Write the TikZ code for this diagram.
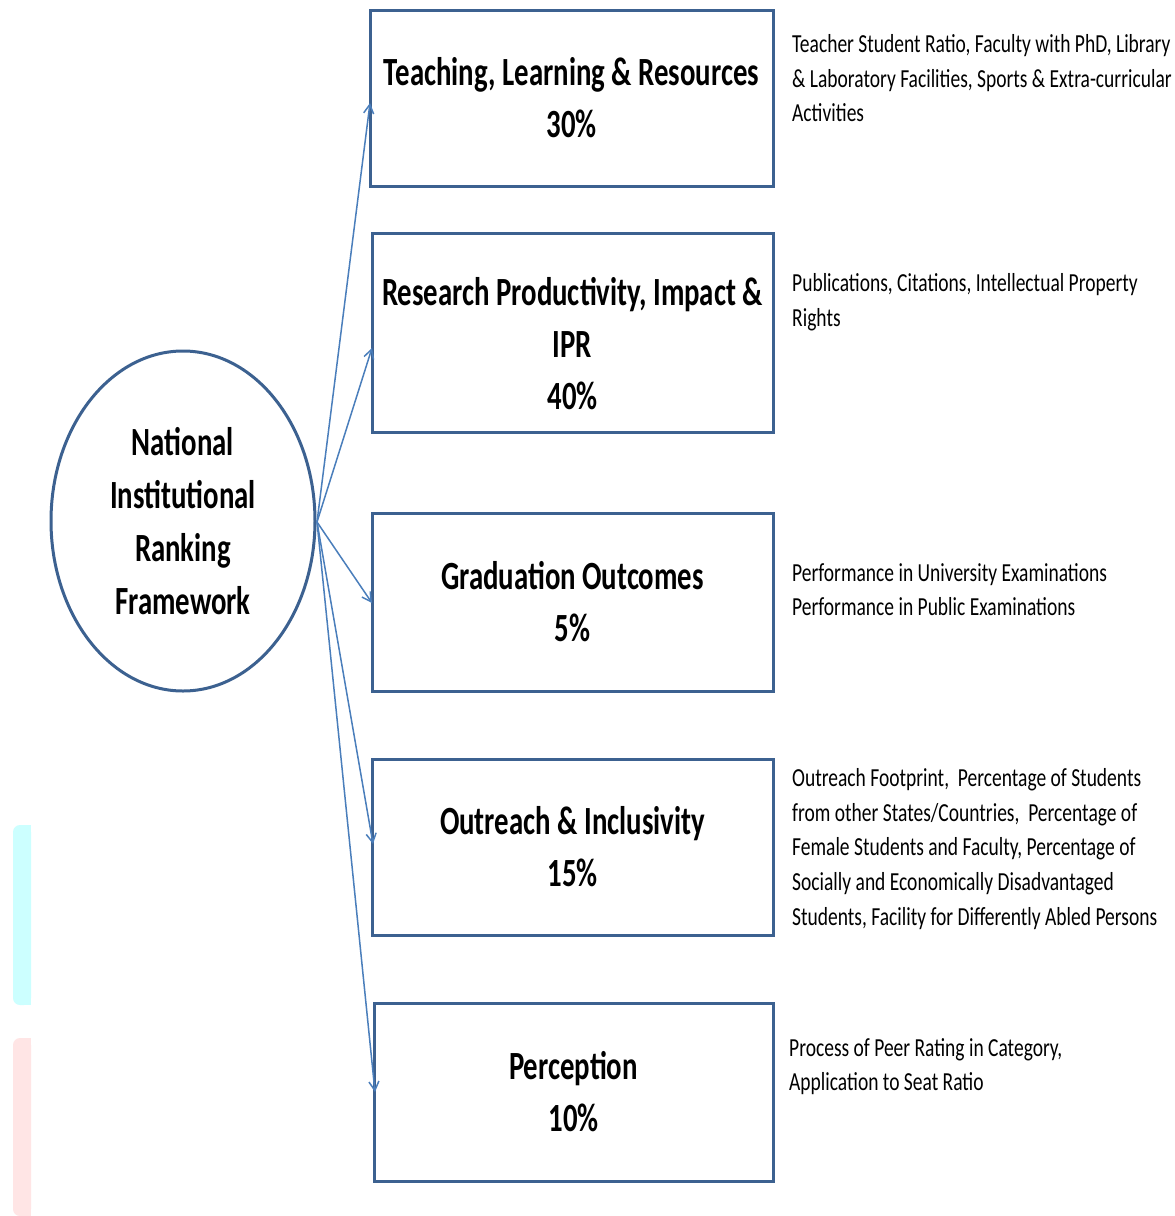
\documentclass[tikz,border=0pt]{standalone}
\usepackage{fontspec}
\setmainfont{Carlito}[FakeStretch=0.72]
\newfontfamily\descfont{Carlito}[FakeStretch=0.75]
\usetikzlibrary{shapes.geometric,arrows.meta}
\definecolor{boxblue}{HTML}{3C6190}
\definecolor{arrowblue}{HTML}{4A7EBB}
\definecolor{barcyan}{HTML}{CCFFFF}
\definecolor{barpink}{HTML}{FFE5E5}
\tikzset{
  crit/.style={draw=boxblue, line width=3pt, rectangle, inner sep=0pt, align=center,
    font=\fontsize{40}{52}\selectfont\bfseries},
  hub/.style={draw=boxblue, line width=3pt, ellipse, inner sep=0pt, align=center,
    minimum width=264pt, minimum height=340pt, font=\fontsize{40}{53}\selectfont\bfseries},
  desc/.style={anchor=north west, inner sep=0pt, align=left,
    font=\descfont\fontsize{26}{34.8}\selectfont},
  link/.style={draw=arrowblue, line width=1.5pt, -{Straight Barb[length=9pt,width=10pt]}}
}
\begin{document}
\begin{tikzpicture}[x=1pt,y=-1pt]
\useasboundingbox (0,0) rectangle (1175,1216);
\fill[white] (0,0) rectangle (1175,1216);
% left colour bars
\fill[barcyan, rounded corners=7pt] (13,825) rectangle (31,1005);
\fill[barcyan] (22,825) rectangle (31,1005);
\fill[barpink, rounded corners=7pt] (13,1038) rectangle (31,1216);
\fill[barpink] (22,1038) rectangle (31,1216);
% hub
\node[hub] (nirf) at (183,521) {National\\Institutional\\Ranking\\Framework};
% criteria boxes
\node[crit, minimum width=403pt, minimum height=176pt] (b1) at (571.5,98) {Teaching, Learning \& Resources\\30\%};
\node[crit, minimum width=401pt, minimum height=199pt] (b2) at (572.5,332.5) {\rule{0pt}{50pt}Research Productivity, Impact \&\\IPR\\40\%};
\node[crit, minimum width=401pt, minimum height=178pt] (b3) at (572.5,602) {Graduation Outcomes\\5\%};
\node[crit, minimum width=401pt, minimum height=176pt] (b4) at (572.5,847) {Outreach \& Inclusivity\\15\%};
\node[crit, minimum width=399pt, minimum height=178pt] (b5) at (573.5,1092) {Perception\\10\%};
% descriptions
\node[desc] (d1) at (792,34) {Teacher Student Ratio, Faculty with PhD, Library\\\& Laboratory Facilities, Sports \& Extra-curricular\\Activities};
\node[desc] (d2) at (792,273) {Publications, Citations, Intellectual Property\\Rights};
\node[desc] (d3) at (792,563) {Performance in University Examinations\\Performance in Public Examinations};
\node[desc] (d4) at (792,768) {Outreach Footprint,\ \ Percentage of Students\\from other States/Countries,\ \ Percentage of\\Female Students and Faculty, Percentage of\\Socially and Economically Disadvantaged\\Students, Facility for Differently Abled Persons};
\node[desc] (d5) at (789,1038) {Process of Peer Rating in Category,\\Application to Seat Ratio};
% connectors
\coordinate (src) at (317,522);
\coordinate (t1) at (370,103);
\coordinate (t2) at (372,348);
\coordinate (t3) at (372,603);
\coordinate (t4) at (373,844);
\coordinate (t5) at (375,1092);
\draw[link] (src) -- (t1);
\draw[link] (src) -- (t2);
\draw[link] (src) -- (t3);
\draw[link] (src) -- (t4);
\draw[link] (src) -- (t5);
\end{tikzpicture}
\end{document}
